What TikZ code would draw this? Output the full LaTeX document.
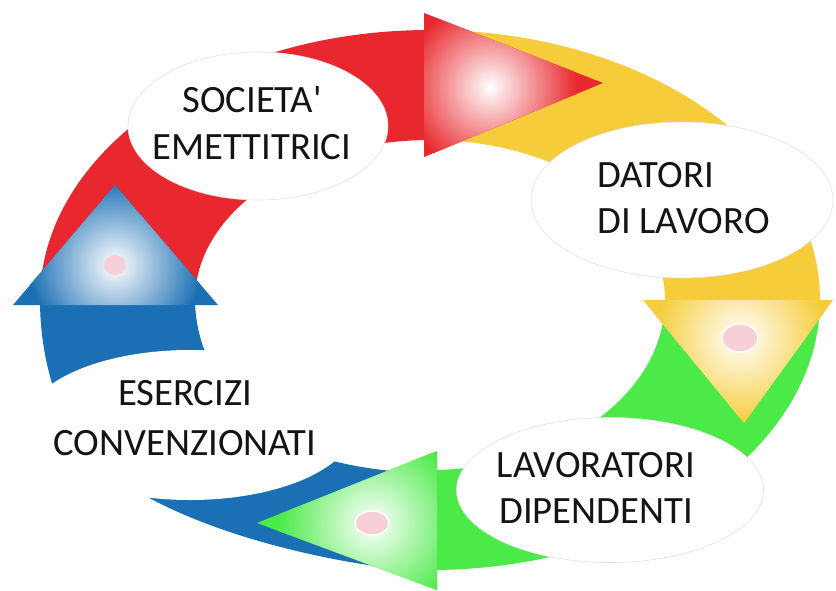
\documentclass[tikz,border=0pt]{standalone}
\usepackage{fontspec}
\setmainfont{Carlito}
\usetikzlibrary{shapes.geometric}
\definecolor{redA}{RGB}{232,40,46}
\definecolor{yellowA}{RGB}{246,204,58}
\definecolor{greenA}{RGB}{76,234,72}
\definecolor{blueA}{RGB}{27,111,180}
\definecolor{dotpink}{RGB}{246,208,214}

\begin{document}
\begin{tikzpicture}[x=0.03cm, y=-0.03cm,
  bubble/.style={ellipse, draw=black!12, line width=0.5pt, fill=white, inner sep=0pt},
  caption/.style={font=\fontsize{33}{39.5}\selectfont, text=black!92, inner sep=0pt, align=center},
  dot/.style={fill=dotpink, draw=white, line width=1.2pt}]
\fill[white] (0,0) rectangle (836,591);
\useasboundingbox (0,0) rectangle (836,591);
\coordinate (hub) at (430,300);

\begin{scope}[shift={(hub)}]
\fill[yellowA] (-88:390 and 270) arc[start angle=-88, end angle=0, x radius=390, y radius=270] -- (0:235 and 160) arc[start angle=0, end angle=-88, x radius=235, y radius=160] -- cycle;
\fill[greenA] (2:390 and 270) arc[start angle=2, end angle=90, x radius=390, y radius=270] -- (90:235 and 170) arc[start angle=90, end angle=2, x radius=235, y radius=170] -- cycle;
\fill[redA] (180:390 and 270) arc[start angle=180, end angle=270, x radius=390, y radius=270] -- (270:235 and 160) arc[start angle=270, end angle=180, x radius=235, y radius=160] -- cycle;
\end{scope}
\fill[blueA] (416,571) .. controls (300,560) and (145,518) .. (85,450) .. controls (55,410) and (40,355) .. (40,300) -- (195,300) .. controls (196,380) and (260,440) .. (333,461) .. controls (365,469) and (395,472) .. (424,473) -- cycle;

\coordinate (rA) at (424,13);
\coordinate (rB) at (603,83);
\coordinate (rC) at (424,157);
\coordinate (yA) at (643,300);
\coordinate (yB) at (833,300);
\coordinate (yC) at (744,423);
\coordinate (gA) at (437,451);
\coordinate (gB) at (257,523);
\coordinate (gC) at (437,590);
\coordinate (bA) at (13,305);
\coordinate (bB) at (115,185);
\coordinate (bC) at (218,305);

\fill[redA] (rA) -- (rB) -- (rC) -- cycle;
\begin{scope}
\clip (rA) -- (rB) -- (rC) -- cycle;
\shade[inner color=white, outer color=redA] (490,87) circle[radius=2.6cm];
\end{scope}
\fill[yellowA] (yA) -- (yB) -- (yC) -- cycle;
\begin{scope}
\clip (yA) -- (yB) -- (yC) -- cycle;
\shade[inner color=white, outer color=yellowA] (740,338) circle[radius=2.6cm];
\end{scope}
\fill[greenA] (gA) -- (gB) -- (gC) -- cycle;
\begin{scope}
\clip (gA) -- (gB) -- (gC) -- cycle;
\shade[inner color=white, outer color=greenA] (372,523) circle[radius=2.8cm];
\end{scope}
\fill[blueA] (bA) -- (bB) -- (bC) -- cycle;
\begin{scope}
\clip (bA) -- (bB) -- (bC) -- cycle;
\shade[inner color=white, outer color=blueA] (115,265) circle[radius=2.6cm];
\end{scope}

\draw[dot] (740,338) ellipse [x radius=18, y radius=14];
\draw[dot] (372,523) ellipse [x radius=17, y radius=12];
\fill[dotpink] (115,265) ellipse [x radius=11, y radius=10];

\node[bubble, minimum width=7.8cm, minimum height=4.44cm] (soc) at (258,126) {};
\node[bubble, minimum width=9.06cm, minimum height=4.68cm] (dat) at (682,200) {};
\node[bubble, minimum width=9.21cm, minimum height=4.35cm] (lav) at (610,490) {};
\node[bubble, draw=none, minimum width=9.9cm, minimum height=4.5cm] (ese) at (190,425) {};

\node[caption] (socL) at (252,123) {SOCIETA\textquotesingle\\EMETTITRICI};
\node[caption, align=left, anchor=west] (datL) at (597,198) {DATORI\\DI LAVORO};
\node[caption] (lavL) at (596,488) {LAVORATORI\\DIPENDENTI};
\node[caption, font=\fontsize{33}{42.5}\selectfont] (eseL) at (185,418) {ESERCIZI\\CONVENZIONATI};
\end{tikzpicture}
\end{document}
